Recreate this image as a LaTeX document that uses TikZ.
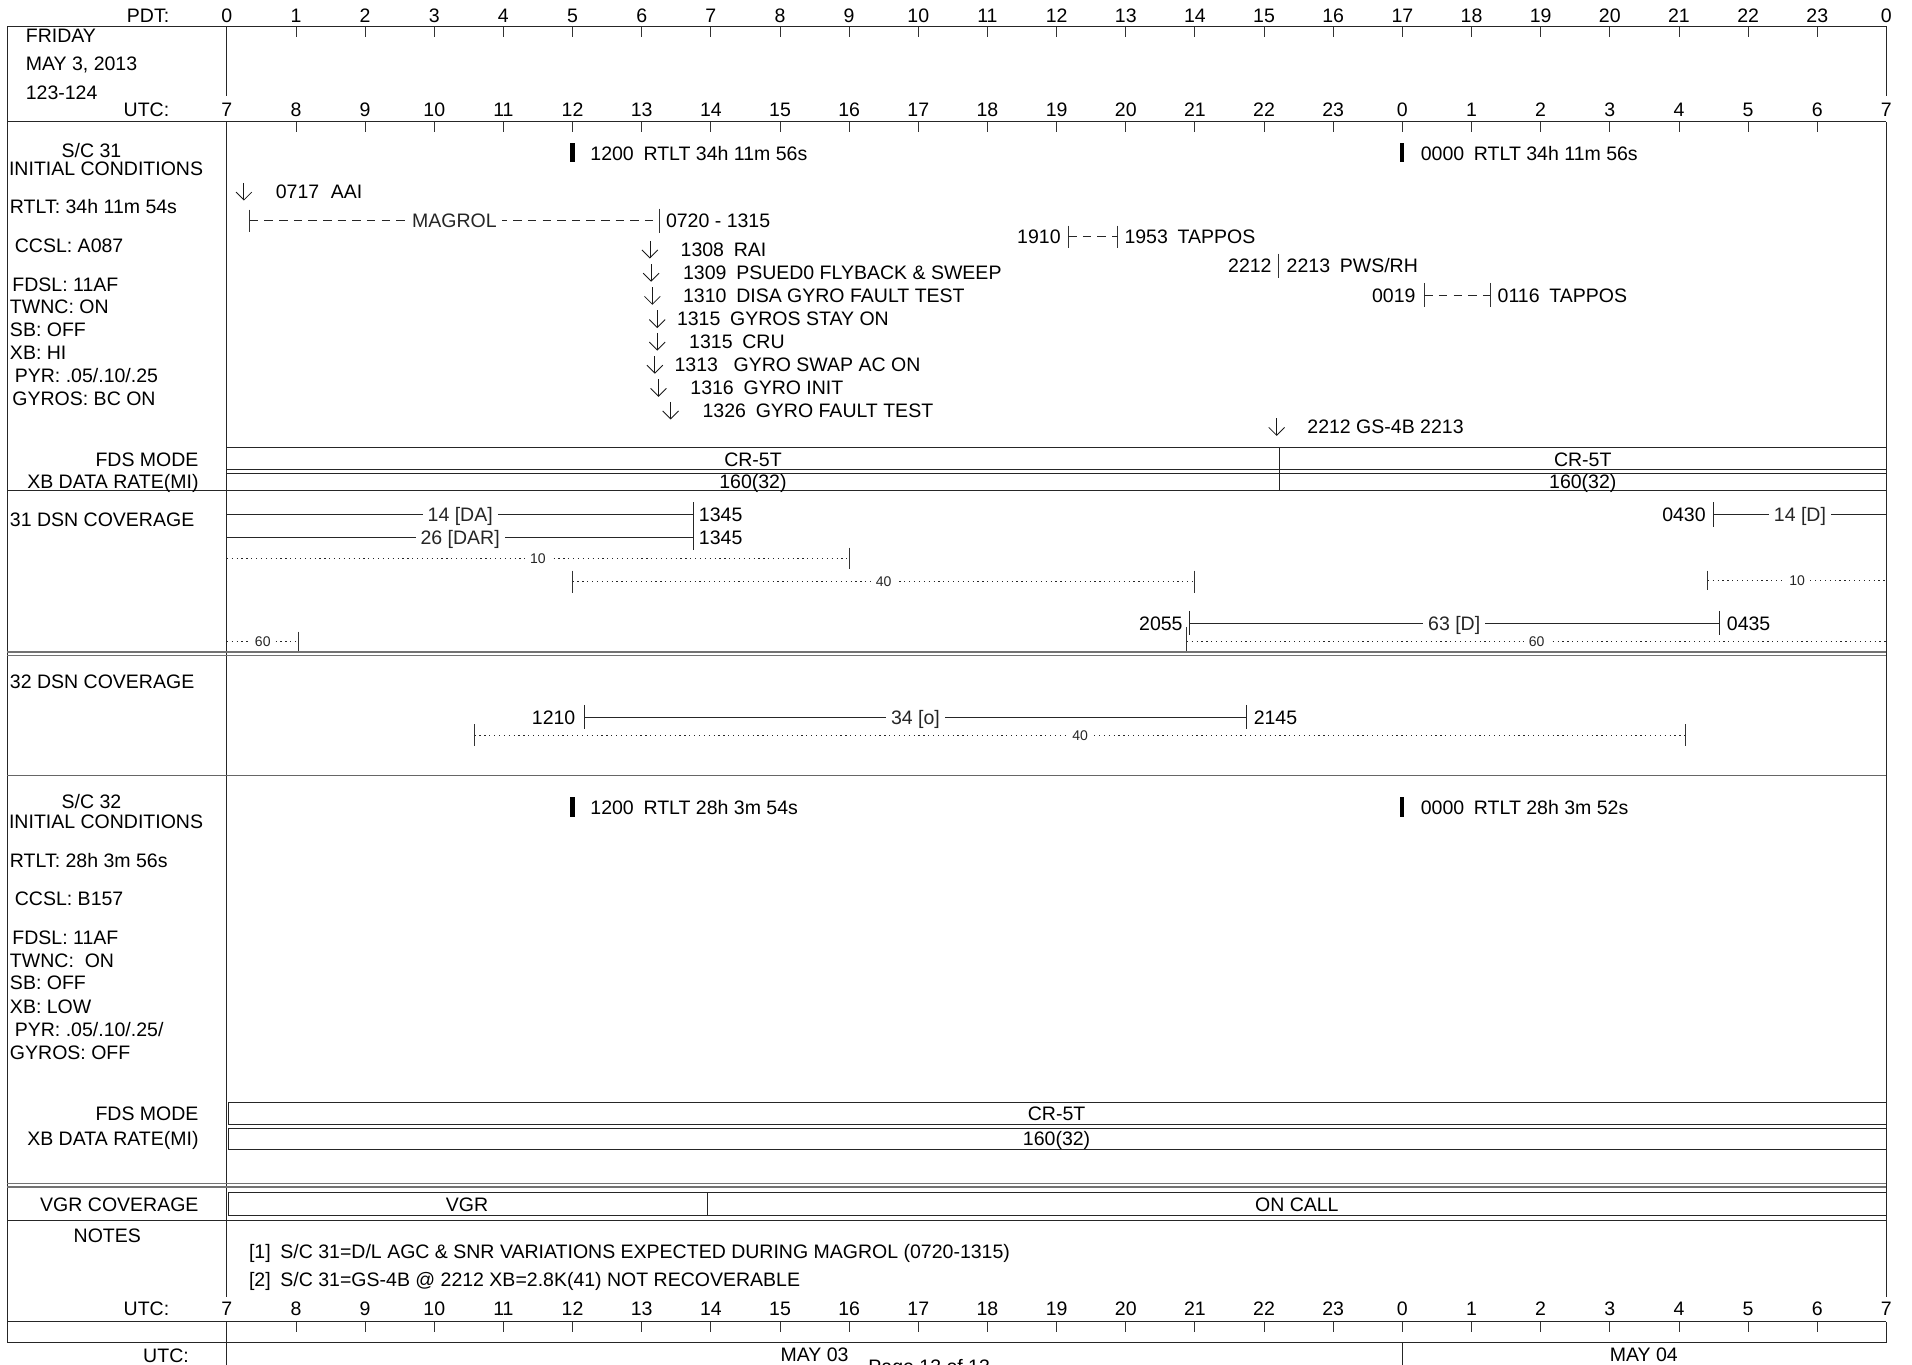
\documentclass[tikz,border=0pt]{standalone}
\usepackage{fontspec}
\setmainfont{Liberation Sans}
\usetikzlibrary{calc}
\begin{document}
\begin{tikzpicture}[x=1pt,y=-1pt,
  declare function={T(\h,\m)=186+(\h+\m/60-7)*56.7083;},
  every node/.style={inner sep=0pt, text height=11.5pt, text depth=0pt, font=\fontsize{16}{18}\selectfont},
  sm/.style={font=\fontsize{11.5}{13}\selectfont, text height=8.3pt},
  ln/.style={line width=0.8pt, black!85},
  tk/.style={line width=0.7pt, black!80},
  sepl/.style={line width=1.2pt, black!55},
  dsh/.style={line width=0.7pt, black!85, dash pattern=on 7pt off 5pt},
  dot/.style={line width=0.8pt, black!85, dash pattern=on 1pt off 3pt},
  onl/.style={fill=white, inner xsep=4pt},
  arr/.style={line width=0.7pt, black!90},
]
\useasboundingbox (0,0) rectangle (1568,1119);

\newcommand\evt[5]{%
  \draw[arr] (#1,#2-7) -- (#1,#2+7);
  \draw[arr] (#1-6.5,#2+0.5) -- (#1,#2+7) -- (#1+6.5,#2+0.5);
  \node[anchor=west] (#5) at (#3,#2) {#4};}

% ---------- header ----------
\node[anchor=east] (pdt) at (139,13) {PDT:};
\foreach \i [evaluate=\i as \lab using {int(mod(\i,24))}] in {0,...,24}
  \node (p\i) at ({186+\i*56.7083},13) {\lab};
\foreach \i [evaluate=\i as \lab using {int(mod(\i+7,24))}] in {0,...,24}
  \node (u\i) at ({186+\i*56.7083},90) {\lab};
\foreach \i [evaluate=\i as \lab using {int(mod(\i+7,24))}] in {0,...,24}
  \node (b\i) at ({186+\i*56.7083},1073) {\lab};
\foreach \i in {1,...,23} {
  \draw[tk] ({186+\i*56.7083},22) -- ++(0,8);
  \draw[tk] ({186+\i*56.7083},100) -- ++(0,8);
  \draw[tk] ({186+\i*56.7083},1084) -- ++(0,8);
}
\node[anchor=west] (fri) at (21,29) {FRIDAY};
\node[anchor=west] (date) at (21,52) {MAY 3, 2013};
\node[anchor=west] (doy) at (21,76) {123-124};
\node[anchor=east] (utc1) at (139,90) {UTC:};

% ---------- frame ----------
\draw[ln] (6,1101) -- (6,22) -- (1547,22) -- (1547,79);
\draw[ln] (186,22) -- (186,79);
\draw[ln] (6,100) -- (1547,100);
\draw[ln] (1547,100) -- (1547,1064);
\draw[ln] (186,100) -- (186,1064);
\draw[ln] (186,1084) -- (186,1119);
\draw[ln] (1547,1084) -- (1547,1101);
\draw[ln] (6,1084) -- (1547,1084);
\draw[ln] (6,1101) -- (1547,1101);
\draw[ln] (1150,1101) -- (1150,1119);

% ---------- S/C 31 ----------
\node (sc31) at (75,123) {S/C 31};
\node (ic31) at (87,138) {INITIAL CONDITIONS};
\node[anchor=west] (rt31) at (8,169.5) {RTLT: 34h 11m 54s};
\node[anchor=west] (cc31) at (12,201.5) {CCSL: A087};
\node[anchor=west] (fd31) at (10,233) {FDSL: 11AF};
\node[anchor=west] (tw31) at (8,251.5) {TWNC: ON};
\node[anchor=west] (sb31) at (8,270) {SB: OFF};
\node[anchor=west] (xb31) at (8,289) {XB: HI};
\node[anchor=west] (py31) at (12,308) {PYR: .05/.10/.25};
\node[anchor=west] (gy31) at (10,326.5) {GYROS: BC ON};

\fill[black] (467.8,117) rectangle (471.2,133);
\node[anchor=west] (r1200a) at (484,126) {1200\hspace{.5em}RTLT 34h 11m 56s};
\fill[black] (1148.3,117) rectangle (1151.7,133);
\node[anchor=west] (r0000a) at (1165,126) {0000\hspace{.5em}RTLT 34h 11m 56s};

\evt{200}{157}{226}{0717\hspace{.6em}AAI}{aai}
% MAGROL
\coordinate (mg1) at ({T(7,20)},181);
\coordinate (mg2) at ({T(13,15)},181);
\draw[tk] ($(mg1)+(0,-9)$) -- ($(mg1)+(0,9)$);
\draw[tk] ($(mg2)+(0,-10)$) -- ($(mg2)+(0,10)$);
\draw[dsh] (mg1) -- (mg2) node[midway,onl] (magrol) {MAGROL};
\node[anchor=west] (mgt) at (546,181) {0720 - 1315};
% TAPPOS 1
\coordinate (tp1) at ({T(19,10)},194);
\coordinate (tp2) at ({T(19,53)},194);
\node[anchor=east] (t1910) at (870,194) {1910};
\draw[tk] ($(tp1)+(0,-9)$) -- ($(tp1)+(0,9)$);
\draw[tk] ($(tp2)+(0,-9)$) -- ($(tp2)+(0,9)$);
\draw[dsh] (tp1) -- (tp2);
\node[anchor=west] (t1953) at (922,194) {1953\hspace{.5em}TAPPOS};
% PWS/RH
\node[anchor=east] (t2212) at (1043,218) {2212};
\draw[tk] (1048.5,208) -- (1048.5,228);
\node[anchor=west] (t2213) at (1055,218) {2213\hspace{.5em}PWS/RH};
% TAPPOS 2
\coordinate (tq1) at ({T(24,19)},242);
\coordinate (tq2) at ({T(25,16)},242);
\node[anchor=east] (t0019) at (1161,242) {0019};
\draw[tk] ($(tq1)+(0,-10)$) -- ($(tq1)+(0,10)$);
\draw[tk] ($(tq2)+(0,-10)$) -- ($(tq2)+(0,10)$);
\draw[dsh] (tq1) -- (tq2);
\node[anchor=west] (t0116) at (1228,242) {0116\hspace{.5em}TAPPOS};

\evt{533}{204.5}{558}{1308\hspace{.5em}RAI}{rai}
\evt{534}{223.5}{560}{1309\hspace{.5em}PSUED0 FLYBACK \& SWEEP}{psu}
\evt{535}{242.5}{560}{1310\hspace{.5em}DISA GYRO FAULT TEST}{disa}
\evt{539}{261.5}{555}{1315\hspace{.5em}GYROS STAY ON}{gso}
\evt{539}{280}{565}{1315\hspace{.5em}CRU}{cru}
\evt{537}{299}{553}{1313\hspace{.8em}GYRO SWAP AC ON}{gsw}
\evt{540}{318}{566}{1316\hspace{.5em}GYRO INIT}{gin}
\evt{550}{336.5}{576}{1326\hspace{.5em}GYRO FAULT TEST}{gft}
\evt{1047}{350}{1072}{2212 GS-4B 2213}{gs4b}

% FDS box S/C 31
\draw[ln] (186,367) -- (1547,367);
\draw[ln] (186,385) -- (1547,385);
\draw[ln] (186,388) -- (1547,388);
\draw[ln] (6,402.5) -- (1547,402.5);
\draw[ln] (1049,367) -- (1049,402.5);
\node[anchor=east] (fm31) at (163,377) {FDS MODE};
\node[anchor=east] (xr31) at (163,395) {XB DATA RATE(MI)};
\node (cr1) at (617.5,376.5) {CR-5T};
\node (cr2) at (1298,376.5) {CR-5T};
\node (dr1) at (617.5,395) {160(32)};
\node (dr2) at (1298,395) {160(32)};

% ---------- 31 DSN ----------
\node[anchor=west] (dsn31) at (8,426) {31 DSN COVERAGE};
\coordinate (a1) at (186,422); \coordinate (a2) at ({T(13,45)},422);
\draw[ln] (a1) -- (a2) node[midway,onl] (l14da) {14 [DA]};
\draw[ln] ($(a2)+(0,-10)$) -- ($(a2)+(0,10)$);
\node[anchor=west] (e1345a) at (573,422) {1345};
\coordinate (b1) at (186,441); \coordinate (b2) at ({T(13,45)},441);
\draw[ln] (b1) -- (b2) node[midway,onl] (l26dar) {26 [DAR]};
\draw[ln] ($(b2)+(0,-10)$) -- ($(b2)+(0,10)$);
\node[anchor=west] (e1345b) at (573,441) {1345};
\coordinate (c1) at (186,458); \coordinate (c2) at ({T(16,0)},458);
\draw[dot] (c1) -- (c2) node[midway,onl,sm] (l10a) {10};
\draw[tk] ($(c2)+(0,-9)$) -- ($(c2)+(0,9)$);
\coordinate (d1) at ({T(12,0)},477); \coordinate (d2) at ({T(21,0)},477);
\draw[dot] (d1) -- (d2) node[midway,onl,sm] (l40a) {40};
\draw[tk] ($(d1)+(0,-9)$) -- ($(d1)+(0,9)$);
\draw[tk] ($(d2)+(0,-9)$) -- ($(d2)+(0,9)$);
\coordinate (f1) at (186,526); \coordinate (f2) at (245,526);
\draw[dot] (f1) -- (f2) node[midway,onl,sm,inner xsep=3pt] (l60a) {60};
\draw[tk] ($(f2)+(0,-8)$) -- ($(f2)+(0,8)$);
% right side
\coordinate (g1) at ({T(28,30)},422); \coordinate (g2) at (1547,422);
\node[anchor=east] (t0430) at (1399,422) {0430};
\draw[ln] (g1) -- (g2) node[midway,onl] (l14d) {14 [D]};
\draw[ln] ($(g1)+(0,-10)$) -- ($(g1)+(0,10)$);
\coordinate (h1) at ({T(28,25)},476); \coordinate (h2) at (1547,476);
\draw[dot] (h1) -- (h2) node[midway,onl,sm] (l10b) {10};
\draw[tk] ($(h1)+(0,-8)$) -- ($(h1)+(0,8)$);
\coordinate (k1) at ({T(20,55)},511); \coordinate (k2) at ({T(28,35)},511);
\node[anchor=east] (t2055) at (970,511) {2055};
\draw[ln] (k1) -- (k2) node[midway,onl] (l63d) {63 [D]};
\draw[ln] ($(k1)+(0,-10)$) -- ($(k1)+(0,10)$);
\draw[ln] ($(k2)+(0,-10)$) -- ($(k2)+(0,10)$);
\node[anchor=west] (t0435) at (1416,511) {0435};
\coordinate (m1) at ({T(20,53)},526); \coordinate (m2) at (1547,526);
\draw[dot] (m1) -- (m2) node[midway,onl,sm] (l60b) {60};
\draw[tk] ($(m1)+(0,-12)$) -- ($(m1)+(0,8)$);

\draw[sepl] (6,534.5) -- (1547,534.5);
\draw[sepl] (6,537.5) -- (1547,537.5);

% ---------- 32 DSN ----------
\node[anchor=west] (dsn32) at (8,559) {32 DSN COVERAGE};
\coordinate (n1) at ({T(12,10)},588); \coordinate (n2) at ({T(21,45)},588);
\node[anchor=east] (t1210) at (472,588) {1210};
\draw[ln] (n1) -- (n2) node[midway,onl] (l34o) {34 [o]};
\draw[ln] ($(n1)+(0,-10)$) -- ($(n1)+(0,10)$);
\draw[ln] ($(n2)+(0,-10)$) -- ($(n2)+(0,10)$);
\node[anchor=west] (t2145) at (1028,588) {2145};
\coordinate (o1) at ({T(10,35)},603); \coordinate (o2) at ({T(28,6)},603);
\draw[dot] (o1) -- (o2) node[midway,onl,sm] (l40b) {40};
\draw[tk] ($(o1)+(0,-9)$) -- ($(o1)+(0,9)$);
\draw[tk] ($(o2)+(0,-9)$) -- ($(o2)+(0,9)$);

\draw[line width=1.4pt, black!60] (6,636) -- (1547,636);

% ---------- S/C 32 ----------
\node (sc32) at (75,657) {S/C 32};
\node (ic32) at (87,674) {INITIAL CONDITIONS};
\node[anchor=west] (rt32) at (8,706) {RTLT: 28h 3m 56s};
\node[anchor=west] (cc32) at (12,737) {CCSL: B157};
\node[anchor=west] (fd32) at (10,769) {FDSL: 11AF};
\node[anchor=west] (tw32) at (8,787.5) {TWNC:\ \ ON};
\node[anchor=west] (sb32) at (8,806) {SB: OFF};
\node[anchor=west] (xb32) at (8,825) {XB: LOW};
\node[anchor=west] (py32) at (12,844) {PYR: .05/.10/.25/};
\node[anchor=west] (gy32) at (8,863) {GYROS: OFF};
\fill[black] (467.8,654) rectangle (471.2,670);
\node[anchor=west] (r1200b) at (484,662) {1200\hspace{.5em}RTLT 28h 3m 54s};
\fill[black] (1148.3,654) rectangle (1151.7,670);
\node[anchor=west] (r0000b) at (1165,662) {0000\hspace{.5em}RTLT 28h 3m 52s};

\draw[ln] (187,904) -- (1547,904) (187,904) -- (187,922.5);
\draw[ln] (187,922.5) -- (1547,922.5);
\draw[ln] (187,925.5) -- (1547,925.5) (187,925.5) -- (187,943);
\draw[ln] (187,943) -- (1547,943);
\node[anchor=east] (fm32) at (163,913.5) {FDS MODE};
\node[anchor=east] (xr32) at (163,934) {XB DATA RATE(MI)};
\node (cr3) at (866.5,913.5) {CR-5T};
\node (dr3) at (866.5,934) {160(32)};

\draw[sepl] (6,970.5) -- (1547,970.5);
\draw[sepl] (6,973.5) -- (1547,973.5);

% ---------- VGR ----------
\draw[ln] (187,978) -- (1547,978) (187,978) -- (187,996.5);
\draw[ln] (187,996.5) -- (1547,996.5);
\draw[ln] (6,1001) -- (1547,1001);
\draw[ln] (580,978) -- (580,996.5);
\node[anchor=east] (vgrc) at (163,988) {VGR COVERAGE};
\node (vgr) at (383,988) {VGR};
\node (oncall) at (1063.5,988) {ON CALL};

% ---------- notes ----------
\node (notes) at (88,1013) {NOTES};
\node[anchor=west] (n1t) at (204,1026.5) {[1]\hspace{.5em}S/C 31=D/L AGC \& SNR VARIATIONS EXPECTED DURING MAGROL (0720-1315)};
\node[anchor=west] (n2t) at (204,1049.5) {[2]\hspace{.5em}S/C 31=GS-4B @ 2212 XB=2.8K(41) NOT RECOVERABLE};
\node[anchor=east] (utc2) at (139,1073) {UTC:};

% ---------- bottom ----------
\node[anchor=east] (utc3) at (155,1112) {UTC:};
\node (may03) at (668,1111) {MAY 03};
\node[anchor=west] (page) at (712,1120.5) {Page 13 of 13};
\node (may04) at (1348,1111) {MAY 04};
\end{tikzpicture}
\end{document}
